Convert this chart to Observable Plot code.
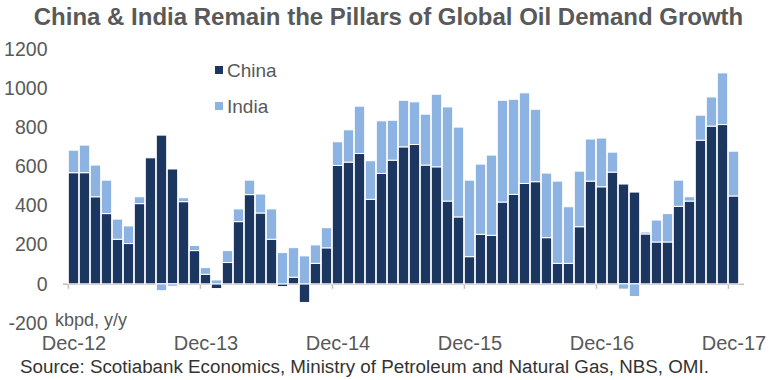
<!DOCTYPE html>
<html>
<head>
<meta charset="utf-8">
<script src="https://cdn.jsdelivr.net/npm/d3@7"></script>
<script src="https://cdn.jsdelivr.net/npm/@observablehq/plot@0.6"></script>
<style>
  html, body { margin: 0; padding: 0; background: #fff; }
  #wrap { position: relative; width: 777px; height: 380px; font-family: "Liberation Sans", Arial, sans-serif; overflow: hidden; }
  #title { position: absolute; left: 0; top: 3px; width: 777px; text-align: center; font-weight: bold; font-size: 24px; color: #595959; white-space: nowrap; }
  #chart { position: absolute; left: 0; top: 0; }
  .leg { position: absolute; font-size: 19px; color: #595959; white-space: nowrap; line-height: 20px; }
  .sw { display: inline-block; width: 8px; height: 8px; margin-right: 4px; vertical-align: 3px; }
  #unit { position: absolute; left: 55px; top: 310px; font-size: 18px; color: #595959; }
  #source { position: absolute; left: 20px; top: 356px; font-size: 18.8px; color: #333; white-space: nowrap; }
</style>
</head>
<body>
<div id="wrap">
  <div id="chart"></div>
  <div id="title">China &amp; India Remain the Pillars of Global Oil Demand Growth</div>
  <div class="leg" id="legChina" style="left:215px; top:61px;"></div>
  <div class="leg" id="legIndia" style="left:215px; top:97px;"></div>
  <div id="unit">kbpd, y/y</div>
  <div id="source">Source: Scotiabank Economics, Ministry of Petroleum and Natural Gas, NBS, OMI.</div>
</div>
<script>
// ---- Data (kbpd, y/y), monthly Dec-12 .. Dec-17 ----
const monthNames = ["Jan","Feb","Mar","Apr","May","Jun","Jul","Aug","Sep","Oct","Nov","Dec"];
const months = ["Dec-12"];
for (const yy of ["13","14","15","16","17"]) for (const m of monthNames) months.push(m + "-" + yy);

const series = ["China", "India"];
const china = [
  568, 568, 445, 359, 228, 206, 410, 644, 760, 587, 420, 170,
  49, -24, 109, 318, 456, 362, 228, -14, 34, -95, 105, 184,
  605, 622, 666, 432, 564, 632, 700, 712, 607, 598, 423, 342,
  139, 253, 248, 418, 457, 513, 522, 236, 105, 105, 292, 525,
  496, 571, 510, 469, 255, 214, 214, 396, 423, 734, 806, 814,
  449
];
const india = [
  115, 141, 162, 171, 103, 90, 35, 0, -35, -12, 20, 26,
  34, 20, 61, 65, 74, 97, 155, 160, 151, 143, 94, 103,
  121, 165, 242, 197, 269, 204, 238, 218, 260, 371, 481, 459,
  391, 359, 410, 520, 486, 463, 370, 330, 420, 289, 284, 215,
  249, 102, -27, -65, 10, 112, 145, 134, 22, 128, 149, 264,
  229
];
const xTickLabels = ["Dec-12", "Dec-13", "Dec-14", "Dec-15", "Dec-16", "Dec-17"];
const yTicks = [-200, 0, 200, 400, 600, 800, 1000, 1200];
const colors = ["#1b365f", "#8db3e2"];

const rows = months.flatMap((m, i) => [
  {month: m, series: "China", value: china[i]},
  {month: m, series: "India", value: india[i]}
]);

const W = 777, H = 380, mL = 63, mR = 33, mT = 49, mB = 57;
const bw = (W - mL - mR) / months.length;

const chart = Plot.plot({
  width: W, height: H,
  marginTop: mT, marginBottom: mB, marginLeft: mL, marginRight: mR,
  style: {fontFamily: "'Liberation Sans', Arial, sans-serif", background: "transparent"},
  x: {type: "band", domain: months, paddingInner: 0, paddingOuter: 0, axis: null, label: null},
  y: {domain: [-200, 1200], axis: null, label: null},
  color: {domain: series, range: colors},
  marks: [
    Plot.ruleY([0], {stroke: "#bfbfbf", strokeWidth: 1.5}),
    Plot.ruleX(xTickLabels, {x: d => d, y1: 0, y2: 0, insetBottom: -5, dx: -bw / 2, stroke: "#bfbfbf", strokeWidth: 1.5}),
    Plot.barY(rows, {x: "month", y: "value", z: "series", fill: "series", order: series, stroke: "white", strokeWidth: 1, insetLeft: 0.3, insetRight: 0.3}),
    Plot.axisY({ticks: yTicks, tickSize: 0, tickPadding: 16, fontSize: 19.5, color: "#595959", label: null, tickFormat: d => String(d)}),
    Plot.axisX({ticks: xTickLabels, tickSize: 0, tickPadding: 12, fontSize: 20, color: "#595959", label: null, tickFormat: d => d})
  ]
});
document.getElementById("chart").appendChild(chart);

const mkLeg = (id, name, c) => {
  const el = document.getElementById(id);
  const sw = document.createElement("span");
  sw.className = "sw"; sw.style.background = c;
  el.appendChild(sw);
  el.appendChild(document.createTextNode(name));
};
mkLeg("legChina", series[0], colors[0]);
mkLeg("legIndia", series[1], colors[1]);
</script>
</body>
</html>
